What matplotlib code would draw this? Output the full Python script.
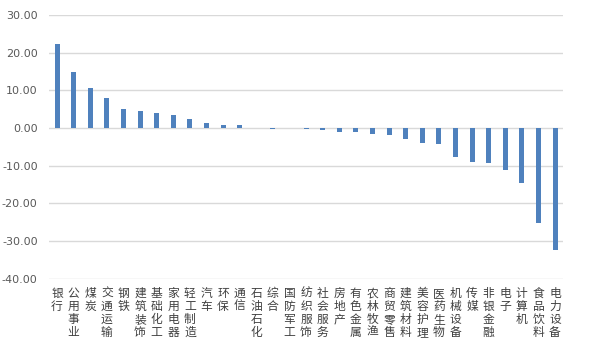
import matplotlib
matplotlib.use("Agg")
import matplotlib.pyplot as plt
import numpy as np

plt.rcParams['font.family'] = ['Noto Sans CJK SC', 'DejaVu Sans']

categories = ["银行", "公用事业", "煤炭", "交通运输", "钢铁", "建筑装饰", "基础化工", "家用电器",
              "轻工制造", "汽车", "环保", "通信", "石油石化", "综合", "国防军工", "纺织服饰",
              "社会服务", "房地产", "有色金属", "农林牧渔", "商贸零售", "建筑材料", "美容护理",
              "医药生物", "机械设备", "传媒", "非银金融", "电子", "计算机", "食品饮料", "电力设备"]
values = [22.3, 14.96, 10.6, 7.96, 5.04, 4.5, 3.98, 3.45,
          2.48, 1.33, 0.8, 0.8, 0.05, -0.3, 0.05, -0.27,
          -0.53, -1.06, -1.06, -1.6, -1.86, -2.92, -3.98,
          -4.25, -7.7, -9.03, -9.29, -11.15, -14.6, -25.2, -32.4]
yticks = [30, 20, 10, 0, -10, -20, -30, -40]

fig = plt.figure(figsize=(6.09, 3.45), dpi=100)
ax = fig.add_axes([0.080, 0.192, 0.845, 0.765])

x = np.arange(len(categories))
ax.bar(x, values, width=0.3, color="#4f81bd", zorder=3)

ax.set_ylim(-40, 30)
ax.set_xlim(-0.5, len(categories) - 0.5)
ax.set_yticks(yticks)
ax.set_yticklabels([f"{v:.2f}" for v in yticks], fontsize=8, color="#595959",
                   family=['DejaVu Sans'])
ax.grid(axis='y', color="#d9d9d9", linewidth=1.0, zorder=0)
ax.set_xticks(x)
ax.set_xticklabels(["\n".join(c) for c in categories], fontsize=8.5, color="#404040",
                   linespacing=1.0, va='top')
ax.tick_params(axis='x', length=0, pad=6)
ax.tick_params(axis='y', length=0, pad=8)
for s in ax.spines.values():
    s.set_visible(False)

fig.savefig("out.png", dpi=100)
